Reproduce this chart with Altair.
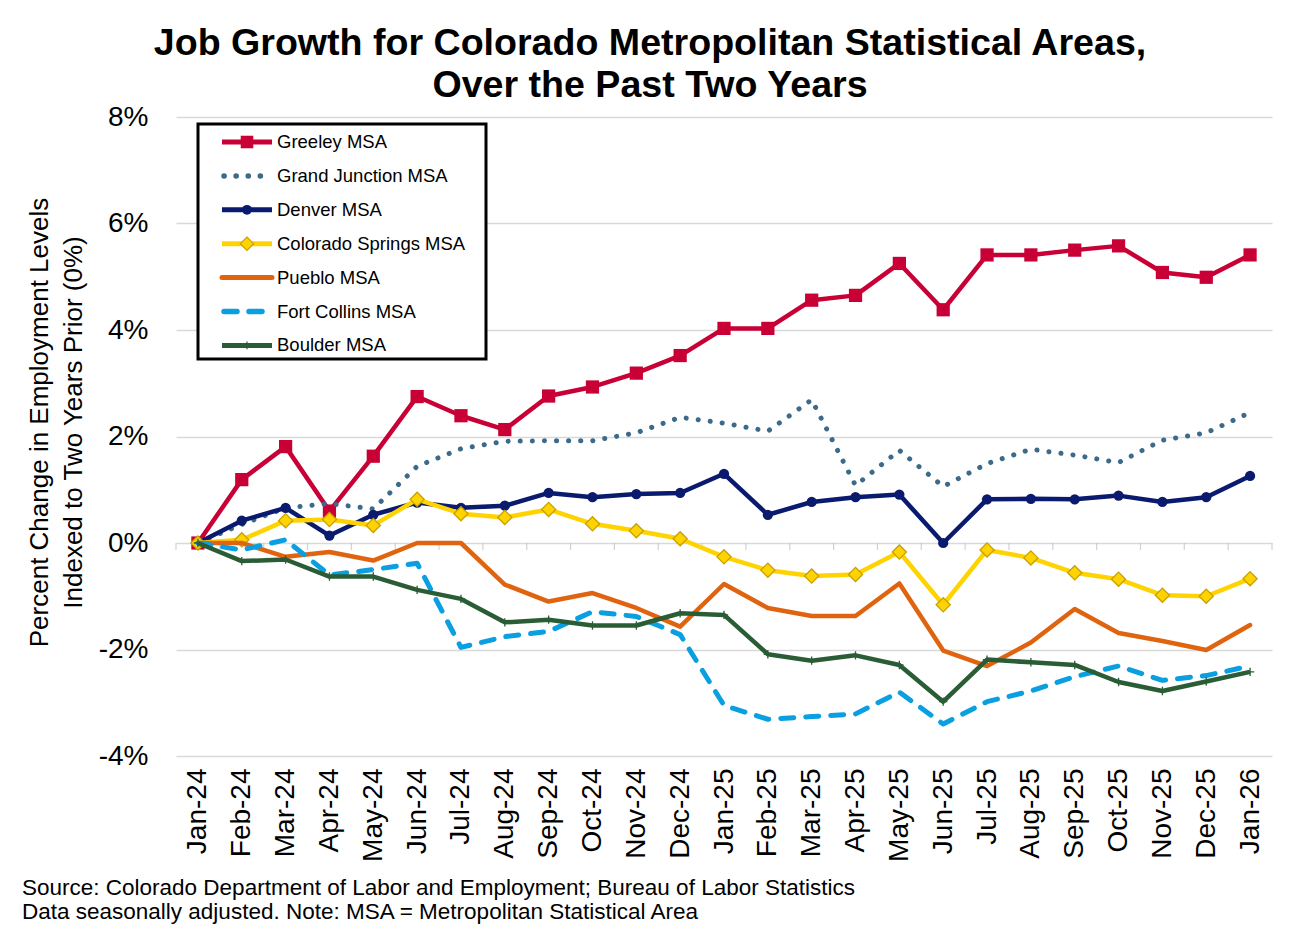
import altair as alt
import pandas as pd

months = ["Jan-24", "Feb-24", "Mar-24", "Apr-24", "May-24", "Jun-24", "Jul-24", "Aug-24",
          "Sep-24", "Oct-24", "Nov-24", "Dec-24", "Jan-25", "Feb-25", "Mar-25", "Apr-25",
          "May-25", "Jun-25", "Jul-25", "Aug-25", "Sep-25", "Oct-25", "Nov-25", "Dec-25", "Jan-26"]

series_names = ["Greeley MSA", "Grand Junction MSA", "Denver MSA", "Colorado Springs MSA",
                "Pueblo MSA", "Fort Collins MSA", "Boulder MSA"]

greeley = [0, 1.19, 1.81, 0.60, 1.63, 2.75, 2.39, 2.13, 2.76, 2.93, 3.19, 3.52, 4.03,
           4.03, 4.56, 4.65, 5.25, 4.38, 5.41, 5.41, 5.50, 5.58, 5.08, 4.99, 5.41]
grand_junction = [0, 0.35, 0.66, 0.74, 0.64, 1.44, 1.77, 1.91, 1.92, 1.92, 2.07, 2.36, 2.25,
                  2.10, 2.69, 1.08, 1.74, 1.06, 1.49, 1.76, 1.65, 1.51, 1.93, 2.07, 2.45]
denver = [0, 0.42, 0.66, 0.14, 0.53, 0.76, 0.66, 0.70, 0.94, 0.86, 0.92, 0.94, 1.30,
          0.53, 0.77, 0.86, 0.91, 0.0, 0.82, 0.83, 0.82, 0.89, 0.77, 0.86, 1.26]
colorado_springs = [0, 0.06, 0.42, 0.44, 0.33, 0.82, 0.55, 0.48, 0.63, 0.36, 0.23, 0.08, -0.26,
                    -0.51, -0.62, -0.59, -0.17, -1.16, -0.13, -0.28, -0.56, -0.68, -0.98, -1.00, -0.67]
pueblo = [0, 0.0, -0.26, -0.17, -0.33, 0.0, 0.0, -0.78, -1.10, -0.94, -1.22, -1.57, -0.77,
          -1.22, -1.37, -1.37, -0.76, -2.02, -2.31, -1.87, -1.24, -1.69, -1.84, -2.01, -1.54]
fort_collins = [0, -0.13, 0.06, -0.60, -0.50, -0.38, -1.96, -1.76, -1.66, -1.29, -1.38, -1.72, -3.05,
                -3.31, -3.26, -3.21, -2.80, -3.40, -2.98, -2.78, -2.51, -2.31, -2.58, -2.49, -2.31]
boulder = [0, -0.34, -0.31, -0.63, -0.63, -0.88, -1.05, -1.49, -1.44, -1.55, -1.55, -1.32, -1.35,
           -2.09, -2.21, -2.11, -2.29, -2.98, -2.19, -2.24, -2.29, -2.61, -2.78, -2.60, -2.42]

y_ticks = [-4, -2, 0, 2, 4, 6, 8]

title_lines = ["Job Growth for Colorado Metropolitan Statistical Areas,", "Over the Past Two Years"]
y_title = ["Percent Change in Employment Levels", "Indexed to Two Years Prior (0%)"]
footer_lines = ["Source: Colorado Department of Labor and Employment; Bureau of Labor Statistics",
                "Data seasonally adjusted. Note: MSA = Metropolitan Statistical Area"]

all_values = [greeley, grand_junction, denver, colorado_springs, pueblo, fort_collins, boulder]

FONT = "Liberation Sans"

styles = {
    "Greeley MSA": dict(color="#C80035", dash=None, cap="butt", shape="square", size=175,
                        fill="#C80035", stroke=None, width=4.5),
    "Grand Junction MSA": dict(color="#3C6A8A", dash=[0.1, 12], cap="round", shape=None, size=0,
                               fill=None, stroke=None, width=5),
    "Denver MSA": dict(color="#0A1A6E", dash=None, cap="butt", shape="circle", size=105,
                       fill="#0A1A6E", stroke=None, width=4.5),
    "Colorado Springs MSA": dict(color="#FFD300", dash=None, cap="butt", shape="diamond", size=200,
                                 fill="#FFD300", stroke="#C8A000", width=4.5),
    "Pueblo MSA": dict(color="#E0640F", dash=None, cap="round", shape=None, size=0,
                       fill=None, stroke=None, width=4.5),
    "Fort Collins MSA": dict(color="#0A9FE0", dash=[13, 12], cap="round", shape=None, size=0,
                             fill=None, stroke=None, width=5),
    "Boulder MSA": dict(color="#2A5C36", dash=None, cap="butt", shape="M0,-1L0,1M-1,0L1,0", size=70,
                        fill=None, stroke="#2A5C36", width=4.5),
}

rows = []
for name, vals in zip(series_names, all_values):
    for i, v in enumerate(vals):
        rows.append({"series": name, "idx": i, "month": months[i], "value": v})
df = pd.DataFrame(rows)

label_expr = "[" + ",".join("'" + m + "'" for m in months) + "][datum.value]"

x_enc = alt.X(
    "idx:Q",
    scale=alt.Scale(domain=[-0.5, len(months) - 0.5], nice=False, zero=False),
    axis=alt.Axis(values=list(range(len(months))), labelExpr=label_expr, labelAngle=-90,
                  labelFontSize=28, labelFont=FONT, labelColor="#000000", labelPadding=12,
                  domain=False, ticks=False, grid=False, title=None, labelOverlap=False),
    title=None,
)
y_enc = alt.Y(
    "value:Q",
    scale=alt.Scale(domain=[y_ticks[0], y_ticks[-1]], nice=False, zero=False),
    axis=alt.Axis(values=y_ticks, labelExpr="datum.value + '%'", labelFontSize=28, labelFont=FONT,
                  labelColor="#000000", labelPadding=28, domain=False, ticks=False, grid=True,
                  gridColor="#D9D9D9", gridWidth=1.5, titleFont=FONT, titleFontSize=26,
                  titleFontWeight="normal", titleColor="#000000", titleLineHeight=34,
                  titleAngle=-90, titleX=-150, titleY=305, titleAlign="center", titleBaseline="top"),
    title=y_title,
)

layers = []

# category boundary ticks on the zero line
boundaries = pd.DataFrame({"idx": [i - 0.5 for i in range(len(months) + 1)], "value": 0.0})
ticks = alt.Chart(boundaries).mark_tick(orient="vertical", size=7, thickness=1.2, color="#BFBFBF",
                                        yOffset=3.5).encode(x=x_enc, y=y_enc)
layers.append(ticks)

for name in series_names:
    st = styles[name]
    sub = alt.Chart(df).transform_filter(alt.datum.series == name)
    line_kw = dict(color=st["color"], strokeWidth=st["width"], strokeCap=st["cap"], strokeJoin="round")
    if st["dash"]:
        line_kw["strokeDash"] = st["dash"]
    layers.append(sub.mark_line(**line_kw).encode(x=x_enc, y=y_enc))
    if st["shape"]:
        pt_kw = dict(shape=st["shape"], size=st["size"], opacity=1)
        if st["fill"]:
            pt_kw.update(filled=True, fill=st["fill"])
        else:
            pt_kw.update(filled=False)
        if st["stroke"]:
            pt_kw.update(stroke=st["stroke"], strokeWidth=1.3)
        else:
            pt_kw.update(strokeWidth=0)
        layers.append(sub.mark_point(**pt_kw).encode(x=x_enc, y=y_enc))

# legend box
box = alt.Chart(pd.DataFrame({"k": [0]})).mark_rect(
    fill="white", stroke="#000000", strokeWidth=3
).encode(x=alt.value(22), x2=alt.value(310), y=alt.value(7), y2=alt.value(242))
layers.append(box)

for k, name in enumerate(series_names):
    st = styles[name]
    ld = alt.Chart(pd.DataFrame({"name": [name], "i": [k]})).transform_calculate(
        ly="25 + 33.9 * datum.i")
    ly = alt.Y("ly:Q", scale=None, axis=None)
    rule_kw = dict(color=st["color"], strokeWidth=st["width"] + 0.5, strokeCap=st["cap"])
    if st["dash"]:
        rule_kw["strokeDash"] = st["dash"]
        rx1, rx2 = 48, 94
    else:
        rx1, rx2 = 46, 96
    layers.append(ld.mark_rule(**rule_kw).encode(x=alt.value(rx1), x2=alt.value(rx2), y=ly))
    if st["shape"]:
        pt_kw = dict(shape=st["shape"], size=st["size"] * 0.9, opacity=1)
        if st["fill"]:
            pt_kw.update(filled=True, fill=st["fill"])
        else:
            pt_kw.update(filled=False)
        if st["stroke"]:
            pt_kw.update(stroke=st["stroke"], strokeWidth=1.2)
        else:
            pt_kw.update(strokeWidth=0)
        layers.append(ld.mark_point(**pt_kw).encode(x=alt.value(71), y=ly))
    layers.append(ld.mark_text(align="left", baseline="middle", font=FONT, fontSize=18.5,
                               color="#000000").encode(x=alt.value(101), y=ly, text="name:N"))

# footer
for j, line in enumerate(footer_lines):
    layers.append(
        alt.Chart(pd.DataFrame({"t": [line]})).mark_text(
            align="left", baseline="alphabetic", font=FONT, fontSize=22.5, color="#000000"
        ).encode(x=alt.value(-154), y=alt.value(778 + 24 * j), text="t:N")
    )

chart = alt.layer(*layers).properties(
    width=1096,
    height=639,
    background="white",
    autosize=alt.AutoSizeParams(type="none"),
    padding={"left": 168, "top": 109, "right": 9, "bottom": 168},
    title=alt.Title(title_lines, fontSize=37.6, fontWeight="bold", font=FONT, color="#000000",
                    anchor="middle", frame="group", dx=-74, dy=12, lineHeight=42, offset=10),
).configure_view(strokeWidth=0, stroke="transparent")

chart.save("out.html", embed_options={"renderer": "svg", "actions": False})
